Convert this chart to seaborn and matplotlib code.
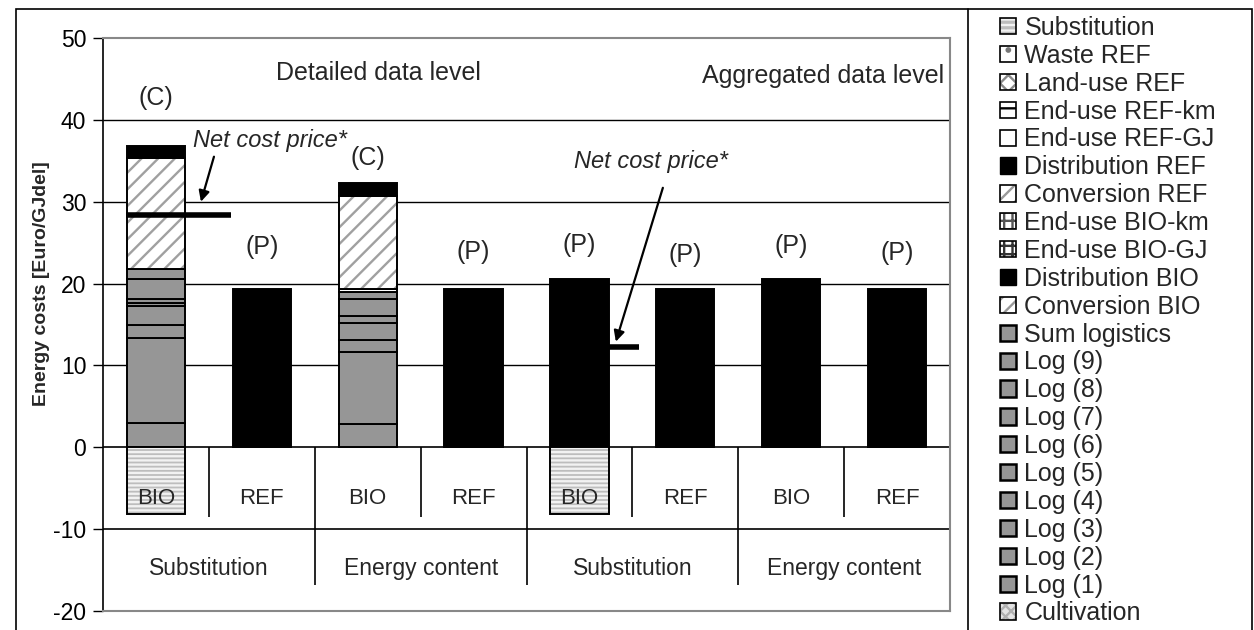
import numpy as np
import pandas as pd
import matplotlib
matplotlib.use("Agg")
import matplotlib.pyplot as plt
import seaborn as sns
from matplotlib.patches import Patch, Rectangle

# ---------------- data ----------------
bar_ids = ["S-BIO-D", "S-REF-D", "E-BIO-D", "E-REF-D",
           "S-BIO-A", "S-REF-A", "E-BIO-A", "E-REF-A"]
bar_types = ["BIO", "REF", "BIO", "REF", "BIO", "REF", "BIO", "REF"]
group_labels = ["Substitution", "Energy content", "Substitution", "Energy content"]
bar_tags = ["(C)", "(P)", "(C)", "(P)", "(P)", "(P)", "(P)", "(P)"]
level_labels = ["Detailed data level", "Aggregated data level"]

# stacked layers, bottom -> top (Euro/GJdel)
log1 = [3.0, 0, 2.85, 0, 0, 0, 0, 0]
log2 = [10.4, 0, 8.85, 0, 0, 0, 0, 0]
log3 = [1.55, 0, 1.4, 0, 0, 0, 0, 0]
log4 = [2.35, 0, 2.1, 0, 0, 0, 0, 0]
log5 = [0.3, 0, 0.8, 0, 0, 0, 0, 0]
log6 = [0.5, 0, 2.1, 0, 0, 0, 0, 0]
log7 = [2.5, 0, 0.9, 0, 0, 0, 0, 0]
log8 = [1.2, 0, 0, 0, 0, 0, 0, 0]
enduse_bio_gj = [0, 0, 0.3, 0, 0, 0, 0, 0]
conversion_bio = [13.5, 0, 11.4, 0, 0, 0, 0, 0]
distribution_bio = [1.45, 0, 1.6, 0, 20.6, 0, 20.6, 0]
distribution_ref = [0, 19.3, 0, 19.3, 0, 19.3, 0, 19.3]
substitution = [-8.1, 0, 0, 0, -8.1, 0, 0, 0]

net_cost_bars = [0, 4]
net_cost_values = [28.4, 12.3]

legend_labels = ["Substitution", "Waste REF", "Land-use REF", "End-use REF-km",
                 "End-use REF-GJ", "Distribution REF", "Conversion REF",
                 "End-use BIO-km", "End-use BIO-GJ", "Distribution BIO",
                 "Conversion BIO", "Sum logistics", "Log (9)", "Log (8)",
                 "Log (7)", "Log (6)", "Log (5)", "Log (4)", "Log (3)",
                 "Log (2)", "Log (1)", "Cultivation"]

# ---------------- style ----------------
sns.set_style("white")
plt.rcParams["font.family"] = ["Liberation Sans", "DejaVu Sans"]
plt.rcParams["hatch.linewidth"] = 1.7
plt.rcParams["axes.unicode_minus"] = False

GREY = "#969696"
W, H = 1254, 630
fig = plt.figure(figsize=(W / 100, H / 100), dpi=100)
ax = fig.add_axes([103 / W, 1 - 611 / H, 847 / W, 573 / H])

BAR_W = 0.55
FS = 18

layers = [
    (log1, GREY, None, None),
    (log2, GREY, None, None),
    (log3, GREY, None, None),
    (log4, GREY, None, None),
    (log5, GREY, None, None),
    (log6, GREY, None, None),
    (log7, GREY, None, None),
    (log8, GREY, None, None),
    (enduse_bio_gj, "white", None, None),
    (conversion_bio, "white", "//", "#a0a0a0"),
    (distribution_bio, "black", None, None),
    (distribution_ref, "black", None, None),
]

cum = np.zeros(len(bar_ids))


def draw_layer(values, bottoms, fc, hatch, hcol):
    idx = [i for i, v in enumerate(values) if v != 0]
    df = pd.DataFrame({"bar": [bar_ids[i] for i in idx],
                       "value": [values[i] for i in idx]})
    sns.barplot(data=df, x="bar", y="value", order=bar_ids, errorbar=None,
                width=BAR_W, color=GREY, ax=ax)
    cont = ax.containers[-1]
    for p, i in zip(cont.patches, idx):
        p.set_y(bottoms[i])
        p.set_zorder(2)
        p.set_facecolor(fc)
        if hatch:
            p.set_edgecolor(hcol)
            p.set_hatch(hatch)
            p.set_linewidth(0)
            ax.add_patch(Rectangle(p.get_xy(), p.get_width(), p.get_height(),
                                   fill=False, ec="black", lw=1.4, zorder=2.1))
        else:
            p.set_edgecolor("black")
            p.set_linewidth(1.4)


for vals, fc, hatch, hcol in layers:
    draw_layer(vals, cum.copy(), fc, hatch, hcol)
    cum += np.array(vals, dtype=float)

# negative substitution bars
draw_layer(substitution, np.zeros(len(bar_ids)), "#bdbdbd", "----", "#f2f2f2")

# ---------------- axes ----------------
ax.set_xlim(-0.5, 7.5)
ax.set_ylim(-20, 50)
ax.set_xlabel("")
ax.tick_params(axis="x", bottom=False, labelbottom=False)
ax.set_yticks(range(-20, 51, 10))
ax.tick_params(axis="y", direction="out", length=7, width=1, labelsize=16.5,
               pad=5, left=True, colors="black")
ax.set_ylabel("Energy costs [Euro/GJdel]", fontsize=14, fontweight="bold")
ax.yaxis.set_label_coords(-0.063, 0.571)

for s in ["top", "right", "bottom"]:
    ax.spines[s].set_color("#888888")
    ax.spines[s].set_linewidth(1.5)
ax.spines["left"].set_color("black")
ax.spines["left"].set_linewidth(1.2)

ax.hlines([10, 20, 30, 40], -0.5, 7.5, color="black", lw=1, zorder=0.5)
ax.hlines([0, -10], -0.5, 7.5, color="black", lw=1.2, zorder=0.6)
ax.vlines([0.5, 2.5, 4.5, 6.5], -8.5, 0, color="black", lw=1.2, zorder=0.6)
ax.vlines([1.5, 3.5, 5.5, 7.5], -16.8, 0, color="black", lw=1.2, zorder=0.6)

# category table texts
for i, t in enumerate(bar_types):
    ax.text(i, -6.2, t, ha="center", va="center", fontsize=16, zorder=5)
for g, lab in enumerate(group_labels):
    ax.text(2 * g + 0.5, -14.8, lab, ha="center", va="center", fontsize=16.5)

# tags above bars
tag_y = [42.7, 24.5, 35.3, 23.9, 24.7, 23.5, 24.6, 23.7]
for i, t in enumerate(bar_tags):
    ax.text(i, tag_y[i], t, ha="center", va="center", fontsize=FS)

ax.text(2.1, 45.7, level_labels[0], ha="center", va="center", fontsize=FS)
ax.text(6.3, 45.3, level_labels[1], ha="center", va="center", fontsize=FS)

# net cost price markers
ax.hlines(net_cost_values[0], net_cost_bars[0] - 0.28, 0.71, color="black",
          lw=4, zorder=6)
ax.hlines(net_cost_values[1], net_cost_bars[1] + BAR_W / 2, 4.56,
          color="black", lw=4, zorder=6)
ax.text(0.35, 37.5, "Net cost price*", ha="left", va="center", fontsize=17,
        style="italic")
ax.text(4.68, 34.9, "Net cost price*", ha="center", va="center", fontsize=17,
        style="italic")
arrow = dict(arrowstyle="-|>", color="black", lw=1.6, mutation_scale=16,
             shrinkA=0, shrinkB=0)
ax.annotate("", xy=(0.425, 30.0), xytext=(0.548, 35.5), arrowprops=arrow)
ax.annotate("", xy=(4.344, 12.9), xytext=(4.788, 31.7), arrowprops=arrow)

# ---------------- legend ----------------
def outline():
    return Patch(facecolor="none", edgecolor="black", linewidth=1.2)


def hatched(fc, hcol, hatch):
    return (Patch(facecolor=fc, edgecolor=hcol, hatch=hatch, linewidth=0), outline())


grey_patch = Patch(facecolor=GREY, edgecolor="black", linewidth=1.8)
handles = [
    hatched("#bdbdbd", "#f2f2f2", "---"),
    hatched("white", "#777777", "."),
    hatched("white", "#888888", "xx"),
    hatched("white", "black", "-"),
    outline(),
    Patch(facecolor="black", edgecolor="black"),
    hatched("white", "#999999", "//"),
    hatched("white", "#555555", "++"),
    hatched("white", "#333333", "++"),
    Patch(facecolor="black", edgecolor="black"),
    hatched("white", "#999999", "//"),
] + [grey_patch] * 10 + [hatched("#e4e4e4", "#b0b0b0", "xxx")]

fig.legend(handles, legend_labels, loc="upper left",
           bbox_to_anchor=(1000 / W, 1 - 16 / H), frameon=False, fontsize=FS,
           handlelength=0.62, handleheight=0.62, handletextpad=0.36,
           labelspacing=0.155, borderpad=0, borderaxespad=0)

# outer frames
fig.add_artist(Rectangle((16 / W, -0.05), (1252 - 16) / W, 1.05 - 9 / H,
                         transform=fig.transFigure, fill=False, ec="black", lw=1.2))
fig.add_artist(plt.Line2D([968 / W, 968 / W], [-0.05, 1 - 9 / H],
                          transform=fig.transFigure, color="black", lw=1.2))

fig.savefig("out.png", dpi=100)
